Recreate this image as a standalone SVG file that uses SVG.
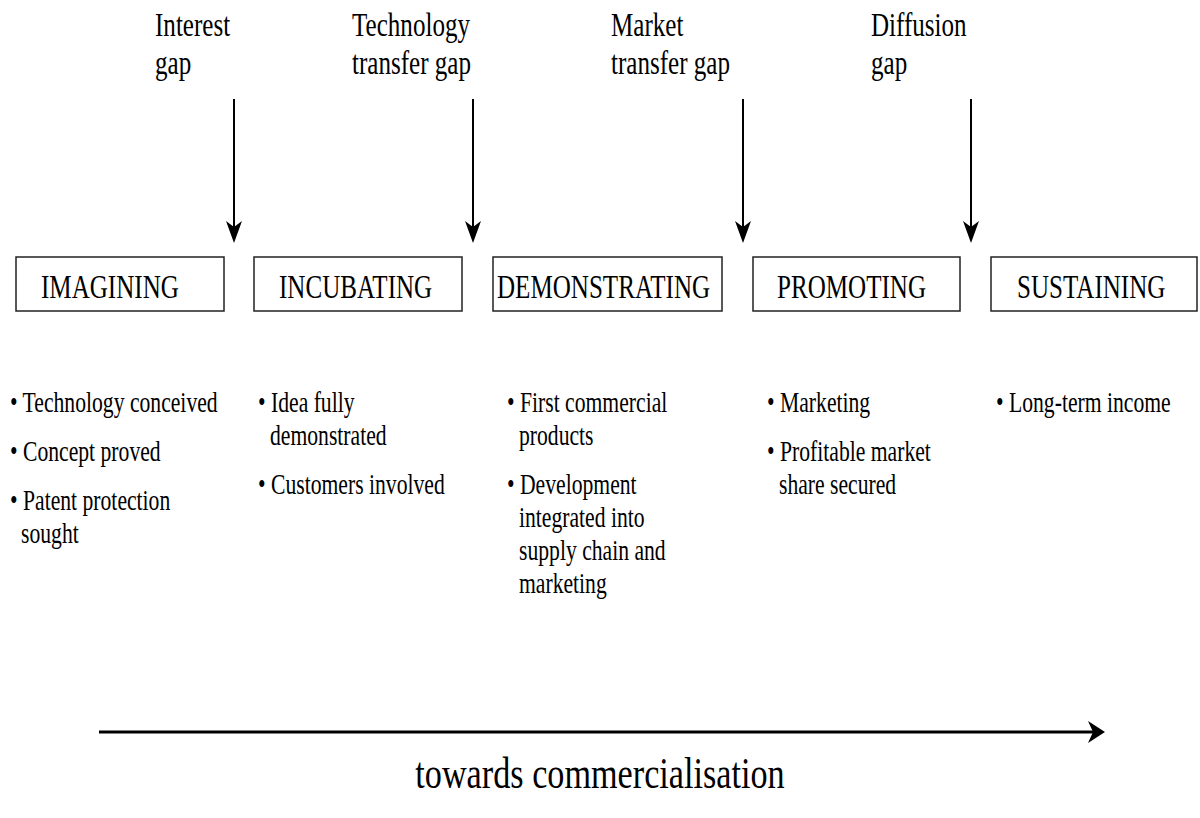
<svg xmlns="http://www.w3.org/2000/svg" width="1200" height="818" viewBox="0 0 1200 818">
<style>
  text { font-family: "Liberation Serif", "Times New Roman", serif; fill: #000; }
  .gap { font-size: 33px; }
  .stage { font-size: 33px; }
  .bul { font-size: 28.5px; }
  .foot { font-size: 45px; }
  .box { fill: #fff; stroke: #222; stroke-width: 1.5; }
  .conn { stroke: #000; stroke-width: 2; fill: none; }
  .axis { stroke: #000; stroke-width: 3; fill: none; }
</style>
<defs>
  <marker id="headV" viewBox="0 -8 22 16" markerWidth="22" markerHeight="16" refX="12" refY="0" orient="auto" markerUnits="userSpaceOnUse">
    <path d="M0,-8 L22,0 L0,8 L6,0 Z" fill="#000"/>
  </marker>
  <marker id="headH" viewBox="0 -11 17 22" markerWidth="17" markerHeight="22" refX="7" refY="0" orient="auto" markerUnits="userSpaceOnUse">
    <path d="M0,-11 L17,0 L0,11 L5,0 Z" fill="#000"/>
  </marker>
</defs>
<rect width="1200" height="818" fill="#fff"/>

<g id="gap-labels">
  <g id="gap-interest">
    <text class="gap" transform="translate(155,36) scale(0.76,1)">Interest</text>
    <text class="gap" transform="translate(155,74) scale(0.76,1)">gap</text>
  </g>
  <g id="gap-technology">
    <text class="gap" transform="translate(352,36) scale(0.76,1)">Technology</text>
    <text class="gap" transform="translate(352,74) scale(0.76,1)">transfer gap</text>
  </g>
  <g id="gap-market">
    <text class="gap" transform="translate(611,36) scale(0.76,1)">Market</text>
    <text class="gap" transform="translate(611,74) scale(0.76,1)">transfer gap</text>
  </g>
  <g id="gap-diffusion">
    <text class="gap" transform="translate(871,36) scale(0.76,1)">Diffusion</text>
    <text class="gap" transform="translate(871,74) scale(0.76,1)">gap</text>
  </g>
</g>

<g id="connectors">
  <line class="conn" x1="234" y1="99" x2="234" y2="233" marker-end="url(#headV)"/>
  <line class="conn" x1="473" y1="99" x2="473" y2="233" marker-end="url(#headV)"/>
  <line class="conn" x1="743" y1="99" x2="743" y2="233" marker-end="url(#headV)"/>
  <line class="conn" x1="971" y1="99" x2="971" y2="233" marker-end="url(#headV)"/>
  <line class="axis" x1="99" y1="732" x2="1095" y2="732" marker-end="url(#headH)"/>
</g>

<g id="imagining">
  <rect class="box" x="16" y="257" width="208" height="54"/>
  <text class="stage" transform="translate(41,298) scale(0.76,1)">IMAGINING</text>
</g>
<g id="incubating">
  <rect class="box" x="254" y="257" width="208" height="54"/>
  <text class="stage" transform="translate(279,298) scale(0.76,1)">INCUBATING</text>
</g>
<g id="demonstrating">
  <rect class="box" x="493" y="257" width="229" height="54"/>
  <text class="stage" transform="translate(497,298) scale(0.76,1)">DEMONSTRATING</text>
</g>
<g id="promoting">
  <rect class="box" x="753" y="257" width="207" height="54"/>
  <text class="stage" transform="translate(777,298) scale(0.76,1)">PROMOTING</text>
</g>
<g id="sustaining">
  <rect class="box" x="991" y="257" width="206" height="54"/>
  <text class="stage" transform="translate(1017,298) scale(0.76,1)">SUSTAINING</text>
</g>

<g id="imagining-notes">
  <text class="bul" transform="translate(10,412) scale(0.76,1)">• Technology conceived</text>
  <text class="bul" transform="translate(10,461) scale(0.76,1)">• Concept proved</text>
  <text class="bul" transform="translate(10,510) scale(0.76,1)">• Patent protection</text>
  <text class="bul" transform="translate(21,543) scale(0.76,1)">sought</text>
</g>
<g id="incubating-notes">
  <text class="bul" transform="translate(258,412) scale(0.76,1)">• Idea fully</text>
  <text class="bul" transform="translate(270,445) scale(0.76,1)">demonstrated</text>
  <text class="bul" transform="translate(258,494) scale(0.76,1)">• Customers involved</text>
</g>
<g id="demonstrating-notes">
  <text class="bul" transform="translate(507,412) scale(0.76,1)">• First commercial</text>
  <text class="bul" transform="translate(519,445) scale(0.76,1)">products</text>
  <text class="bul" transform="translate(507,494) scale(0.76,1)">• Development</text>
  <text class="bul" transform="translate(519,527) scale(0.76,1)">integrated into</text>
  <text class="bul" transform="translate(519,560) scale(0.76,1)">supply chain and</text>
  <text class="bul" transform="translate(519,593) scale(0.76,1)">marketing</text>
</g>
<g id="promoting-notes">
  <text class="bul" transform="translate(767,412) scale(0.76,1)">• Marketing</text>
  <text class="bul" transform="translate(767,461) scale(0.76,1)">• Profitable market</text>
  <text class="bul" transform="translate(779,494) scale(0.76,1)">share secured</text>
</g>
<g id="sustaining-notes">
  <text class="bul" transform="translate(996,412) scale(0.76,1)">• Long-term income</text>
</g>

<g id="axis-label">
  <text class="foot" text-anchor="middle" transform="translate(600,788) scale(0.76,1)">towards commercialisation</text>
</g>
</svg>
